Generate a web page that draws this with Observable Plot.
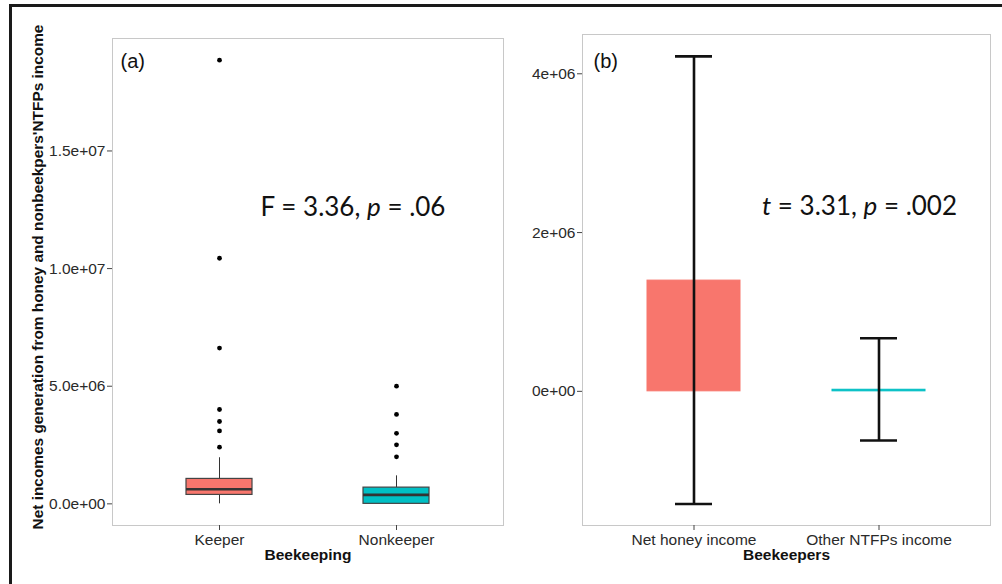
<!DOCTYPE html>
<html><head><meta charset="utf-8">
<script src="https://cdn.jsdelivr.net/npm/d3@7"></script>
<script src="https://cdn.jsdelivr.net/npm/@observablehq/plot@0.6"></script>
<style>
body{margin:0;background:#fff;width:1002px;height:584px;overflow:hidden;position:relative;font-family:"Liberation Sans",Arial,sans-serif;}
#frame{position:absolute;left:9px;top:4px;width:1100px;height:700px;border-left:3px solid #1a1a1a;border-top:3px solid #1a1a1a;z-index:5;pointer-events:none;}
#a{position:absolute;left:0;top:0}
#b{position:absolute;left:510px;top:0}
</style></head><body>
<div id="a"></div><div id="b"></div>
<div id="frame"></div>
<script>
// Panel (a): box plot summaries
const groupsA = ["Keeper", "Nonkeeper"];
const q1A = [0.38e6, 0];
const medianA = [0.62e6, 0.38e6];
const q3A = [1.06e6, 0.69e6];
const whiskerLowA = [0, 0];
const whiskerHighA = [1.96e6, 1.19e6];
const outliersKeeper = [2.41e6, 3.10e6, 3.50e6, 4.01e6, 6.62e6, 10.44e6, 18.86e6];
const outliersNonkeeper = [2.0e6, 2.51e6, 3.0e6, 3.8e6, 5.0e6];
const ticksA = [0, 5e6, 1e7, 1.5e7];
const tickLabelsA = ["0.0e+00", "5.0e+06", "1.0e+07", "1.5e+07"];
const colorsA = ["#F8766D", "#00BFC4"];

// Panel (b): means with error bars
const groupsB = ["Net honey income", "Other NTFPs income"];
const meansB = [1.395e6, 0.02e6];
const lowB = [-1.42e6, -0.62e6];
const highB = [4.22e6, 0.668e6];
const ticksB = [0, 2e6, 4e6];
const tickLabelsB = ["0e+00", "2e+06", "4e+06"];
const colorsB = ["#F8766D", "#00BFC4"];

const boxes = groupsA.map((g, i) => ({g, q1: q1A[i], med: medianA[i], q3: q3A[i], lo: whiskerLowA[i], hi: whiskerHighA[i], c: colorsA[i]}));
const outliers = [
  ...outliersKeeper.map(v => ({g: groupsA[0], v})),
  ...outliersNonkeeper.map(v => ({g: groupsA[1], v}))
];
const bars = groupsB.map((g, i) => ({g, m: meansB[i], lo: lowB[i], hi: highB[i], c: colorsB[i]}));

const baseStyle = {fontFamily: "'Liberation Sans', Arial, sans-serif", fontSize: "15px", color: "#2a2a2a", background: "none", overflow: "visible"};

const plotA = Plot.plot({
  width: 510, height: 584,
  marginLeft: 112, marginRight: 7, marginTop: 38, marginBottom: 59,
  style: baseStyle,
  x: {domain: groupsA, paddingInner: 0.625, paddingOuter: 0.411},
  y: {domain: [-0.92e6, 19.78e6]},
  marks: [
    Plot.frame({stroke: "#c8c8c8"}),
    Plot.axisY({ticks: ticksA, tickFormat: d => tickLabelsA[ticksA.indexOf(d)], tickSize: 5, tickPadding: 2, fontSize: 15.5, label: null, stroke: "#444"}),
    Plot.axisX({tickSize: 5, tickPadding: 3, fontSize: 15.5, label: null, stroke: "#444"}),
    Plot.ruleX(boxes, {x: "g", y1: "q3", y2: "hi", stroke: "#333", strokeWidth: 1}),
    Plot.ruleX(boxes, {x: "g", y1: "lo", y2: "q1", stroke: "#333", strokeWidth: 1}),
    Plot.barY(boxes, {x: "g", y1: "q1", y2: "q3", fill: "c", stroke: "#444", strokeWidth: 1.2}),
    Plot.tickY(boxes, {x: "g", y: "med", stroke: "#333", strokeWidth: 2.6}),
    Plot.dot(outliers, {x: "g", y: "v", r: 2.4, fill: "black", stroke: "none"}),
    Plot.text(["(a)"], {frameAnchor: "top-left", dx: 8, dy: 23, textAnchor: "start", lineAnchor: "middle", fontSize: 20, fill: "#111"}),
    Plot.text(["F = 3.36, p = .06"], {frameAnchor: "middle", y: 12.6e6, dx: 45, fontSize: 26, fontFamily: "Lato, 'Open Sans', sans-serif", fill: "#111", lineAnchor: "middle"}),
    Plot.text(["Beekeeping"], {frameAnchor: "bottom", dy: 30, fontWeight: "bold", fontSize: 15.5, fill: "#111", lineAnchor: "middle"}),
    Plot.text(["Net incomes generation from honey and nonbeekpers'NTFPs income"], {frameAnchor: "left", dx: -74, dy: -5, rotate: -90, textAnchor: "middle", lineAnchor: "middle", fontWeight: "bold", fontSize: 15.4, fill: "#111"})
  ]
});

const plotB = Plot.plot({
  width: 492, height: 584,
  marginLeft: 72, marginRight: 12, marginTop: 34, marginBottom: 59,
  style: baseStyle,
  x: {domain: groupsB, paddingInner: 0.5, paddingOuter: 0.35},
  y: {domain: [-1.69e6, 4.495e6]},
  marks: [
    Plot.frame({stroke: "#c8c8c8"}),
    Plot.axisY({ticks: ticksB, tickFormat: d => tickLabelsB[ticksB.indexOf(d)], tickSize: 5, tickPadding: 2, fontSize: 15.5, label: null, stroke: "#444"}),
    Plot.axisX({tickSize: 5, tickPadding: 3, fontSize: 15.5, label: null, stroke: "#444"}),
    Plot.barY(bars, {x: "g", y1: 0, y2: "m", fill: "c", stroke: "c", strokeWidth: 1}),
    Plot.ruleX(bars, {x: "g", y1: "lo", y2: "hi", stroke: "#111", strokeWidth: 2.6}),
    Plot.tickY(bars, {x: "g", y: "hi", stroke: "#111", strokeWidth: 2.6, insetLeft: 28, insetRight: 28}),
    Plot.tickY(bars, {x: "g", y: "lo", stroke: "#111", strokeWidth: 2.6, insetLeft: 28, insetRight: 28}),
    Plot.text(["(b)"], {frameAnchor: "top-left", dx: 11, dy: 27, textAnchor: "start", lineAnchor: "middle", fontSize: 20, fill: "#111"}),
    Plot.text(["t = 3.31, p = .002"], {frameAnchor: "middle", y: 2.33e6, dx: 73, fontSize: 26, fontFamily: "Lato, 'Open Sans', sans-serif", fill: "#111", lineAnchor: "middle"}),
    Plot.text(["Beekeepers"], {frameAnchor: "bottom", dy: 30, fontWeight: "bold", fontSize: 15.5, fill: "#111", lineAnchor: "middle"})
  ]
});

function italicize(svg, full, parts) {
  svg.querySelectorAll("text").forEach(t => {
    if (t.textContent === full) {
      while (t.firstChild) t.removeChild(t.firstChild);
      parts.forEach(([s, it]) => {
        const ts = document.createElementNS("http://www.w3.org/2000/svg", "tspan");
        ts.textContent = s;
        if (it) ts.setAttribute("font-style", "italic");
        t.appendChild(ts);
      });
    }
  });
}
italicize(plotA, "F = 3.36, p = .06", [["F = 3.36, ", false], ["p", true], [" = .06", false]]);
italicize(plotB, "t = 3.31, p = .002", [["t", true], [" = 3.31, ", false], ["p", true], [" = .002", false]]);

document.getElementById("a").appendChild(plotA);
document.getElementById("b").appendChild(plotB);
</script>
</body></html>
